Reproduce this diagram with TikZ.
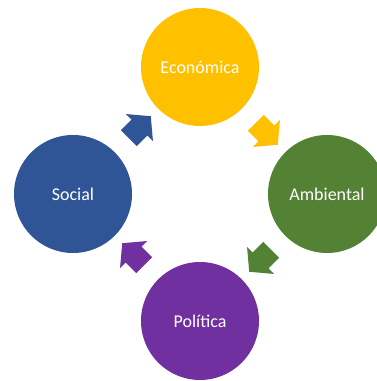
\documentclass[tikz,border=0pt]{standalone}
\usepackage{fontspec}
\setmainfont{Carlito}
\usetikzlibrary{positioning, calc, shapes.arrows}
\definecolor{econyellow}{HTML}{FFC000}
\definecolor{ambgreen}{HTML}{548235}
\definecolor{polpurple}{HTML}{7030A0}
\definecolor{socblue}{HTML}{2F5597}

\begin{document}
\begin{tikzpicture}[x=1pt, y=1pt,
    area/.style={circle, minimum size=118pt, inner sep=0pt, text=white, font=\fontsize{18}{20}\selectfont},
    flow/.style={single arrow, single arrow head extend=8pt, single arrow tip angle=100,
        minimum height=31pt, inner xsep=0pt, inner ysep=11pt, draw=none}
]
    \useasboundingbox (0, 0) rectangle (377, 381);
    \clip (0, 0) rectangle (377, 381);

    % Circles
    \node[area, fill=econyellow] (econ) at (200, 314) {Económica};
    \node[area, fill=ambgreen] (amb) at (327, 187) {Ambiental};
    \node[area, fill=polpurple] (pol) at (200, 60) {Política};
    \node[area, fill=socblue] (soc) at (73, 187) {Social};

    % Arrows
    \node[flow, fill=socblue, rotate=45] (a1) at ($(soc)!0.5!(econ)$) {};
    \node[flow, fill=econyellow, rotate=-45] (a2) at ($(econ)!0.5!(amb)$) {};
    \node[flow, fill=ambgreen, rotate=-135] (a3) at ($(amb)!0.5!(pol)$) {};
    \node[flow, fill=polpurple, rotate=135] (a4) at ($(pol)!0.5!(soc)$) {};

\end{tikzpicture}
\end{document}
